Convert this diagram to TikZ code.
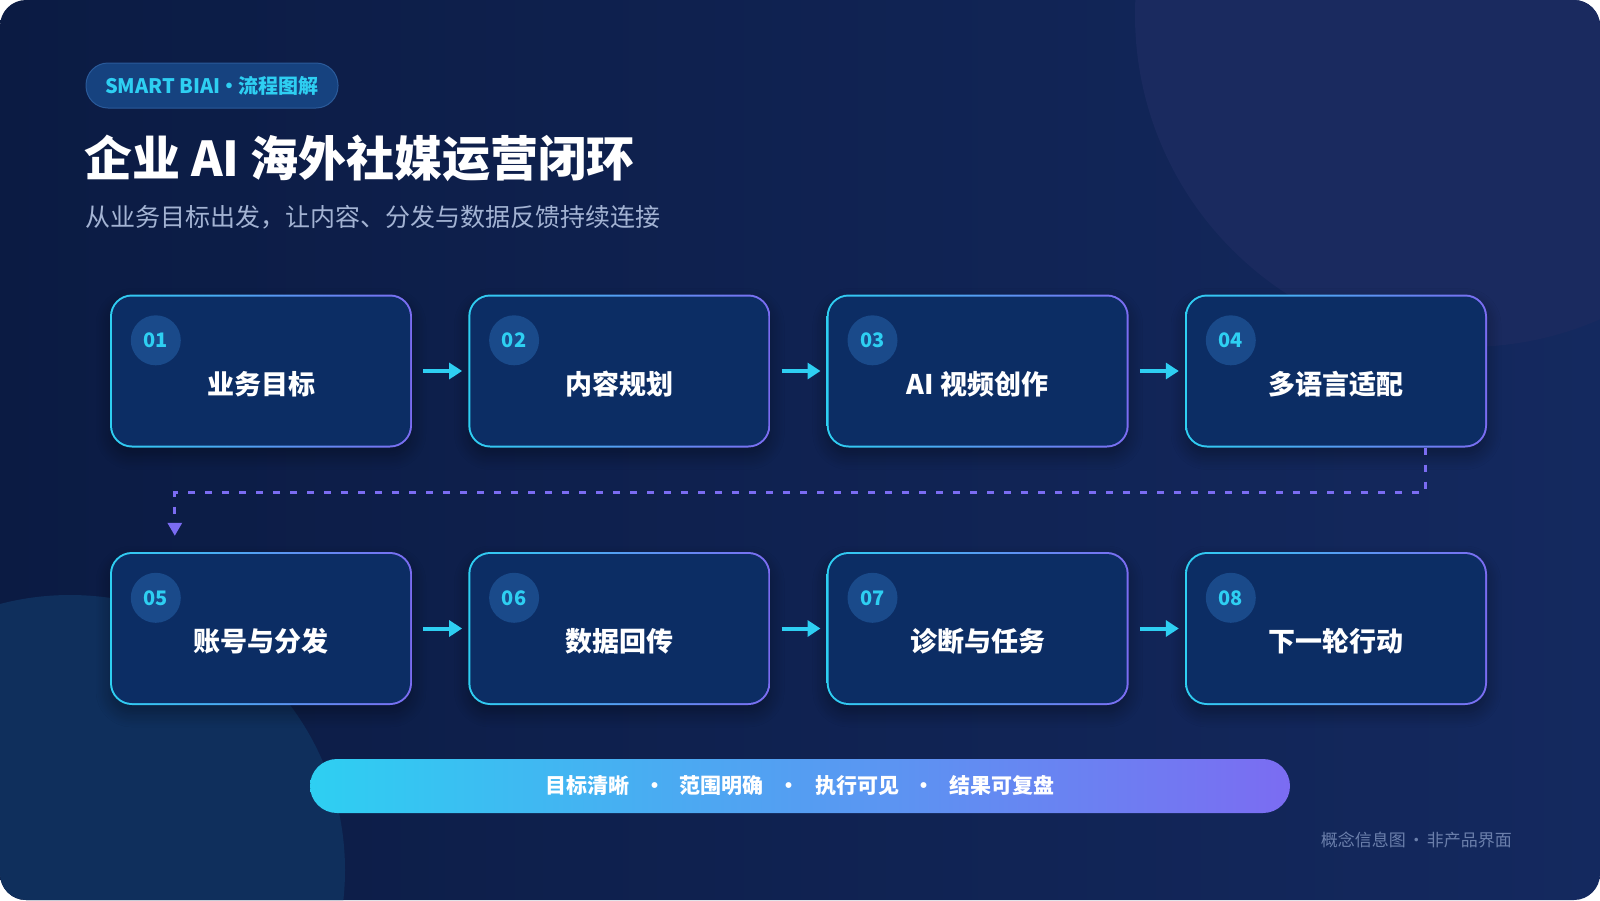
\documentclass[tikz,border=0pt]{standalone}
\usepackage{fontspec}
\setmainfont{Noto Sans CJK SC}
\usetikzlibrary{arrows.meta,shadows.blur}
\definecolor{bgA}{HTML}{0B1B43}
\definecolor{bgB}{HTML}{14295F}
\definecolor{bigcirc}{HTML}{1A2A5F}
\definecolor{lowcirc}{HTML}{0F2F5C}
\definecolor{boxfill}{HTML}{0C2D64}
\definecolor{numfill}{HTML}{1A4A8A}
\definecolor{cyanc}{HTML}{2ECFF2}
\definecolor{purplec}{HTML}{7B6CF2}
\definecolor{badgefill}{HTML}{16427F}
\definecolor{badgeline}{HTML}{2A5A9A}
\definecolor{subtext}{HTML}{A3B3D3}
\definecolor{foottext}{HTML}{6B7FAB}
\begin{document}
\begin{tikzpicture}[x=1pt,y=-1pt,
  stepouter/.style={rounded corners=22pt, minimum width=302pt, minimum height=153pt, inner sep=0pt,
     left color=cyanc, right color=purplec,
     blur shadow={shadow xshift=0pt, shadow yshift=-8pt, shadow blur radius=14pt, shadow opacity=35, shadow blur steps=10}},
  stepinner/.style={rounded corners=20pt, minimum width=298pt, minimum height=149pt, inner sep=0pt, fill=boxfill},
  numdot/.style={circle, fill=numfill, minimum size=50pt, inner sep=0pt, text=cyanc, font=\bfseries\fontsize{20}{20}\selectfont},
  steplabel/.style={text=white, inner sep=0pt, font=\bfseries\fontsize{27}{27}\selectfont},
  flowarrow/.style={draw=cyanc, line width=4pt, -{Triangle[length=13pt,width=16pt]}},
  loopline/.style={draw=purplec, line width=3pt, dash pattern=on 7pt off 10pt, -{Triangle[length=13pt,width=14pt]}}
]
\useasboundingbox (0,0) rectangle (1600,900);
\fill[white] (0,0) rectangle (1600,900);
\path[left color=bgA, right color=bgB, rounded corners=26pt] (0,0) rectangle (1600,900);
\begin{scope}
  \clip[rounded corners=26pt] (0,0) rectangle (1600,900);
  \fill[bigcirc] (1467,15) circle (332);
  \fill[lowcirc] (70,870) circle (275);
\end{scope}

% badge
\node[draw=badgeline, line width=1pt, fill=badgefill, rounded corners=22pt, minimum width=252pt, minimum height=45pt,
      inner sep=0pt, text=cyanc, font=\bfseries\fontsize{20}{20}\selectfont] (badge) at (212,85.5) {SMART BIAI\hspace{-1pt}•\hspace{-1pt}流程图解};
% title
\node[anchor=west, inner sep=0pt, text=white, font=\bfseries\fontsize{48}{48}\selectfont] (title) at (84,158) {企业 AI 海外社媒运营闭环};
\node[anchor=west, inner sep=0pt, text=subtext, font=\fontsize{25}{25}\selectfont] (subtitle) at (85,217) {从业务目标出发，让内容、分发与数据反馈持续连接};

% boxes
\foreach \n/\x/\y/\t in {1/261/371/业务目标, 2/619.3/371/内容规划, 3/977.7/371/AI 视频创作, 4/1336/371/多语言适配,
                          5/261/628.5/账号与分发, 6/619.3/628.5/数据回传, 7/977.7/628.5/诊断与任务, 8/1336/628.5/下一轮行动} {
  \node[stepouter] (bo\n) at (\x,\y) {};
  \node[stepinner] (b\n) at (\x,\y) {};
  \node[numdot] (n\n) at ([xshift=46pt,yshift=-46pt]bo\n.north west) {0\n};
  \node[steplabel] (t\n) at ([yshift=-13pt]b\n.center) {\t};
}

% arrows
\foreach \a/\b in {1/2,2/3,3/4,5/6,6/7,7/8}
  \draw[flowarrow] ([xshift=11pt]bo\a.east) -- ([xshift=-6pt]bo\b.west);

\draw[loopline] ([xshift=89pt]bo4.south) -- ++(0,45) -| ([xshift=65pt,yshift=16pt]bo5.north west);

% bottom bar
\node[left color=cyanc, right color=purplec, rounded corners=27pt, minimum width=980pt, minimum height=54pt, inner sep=0pt,
      text=white, font=\bfseries\fontsize{21}{21}\selectfont] (bar) at (800,786)
  {目标清晰\hspace{15pt}•\hspace{15pt}范围明确\hspace{15pt}•\hspace{15pt}执行可见\hspace{15pt}•\hspace{15pt}结果可复盘};

\node[anchor=east, inner sep=0pt, text=foottext, font=\fontsize{17}{17}\selectfont] (foot) at (1512,840) {概念信息图\hspace{2pt}·\hspace{2pt}非产品界面};
\end{tikzpicture}
\end{document}
